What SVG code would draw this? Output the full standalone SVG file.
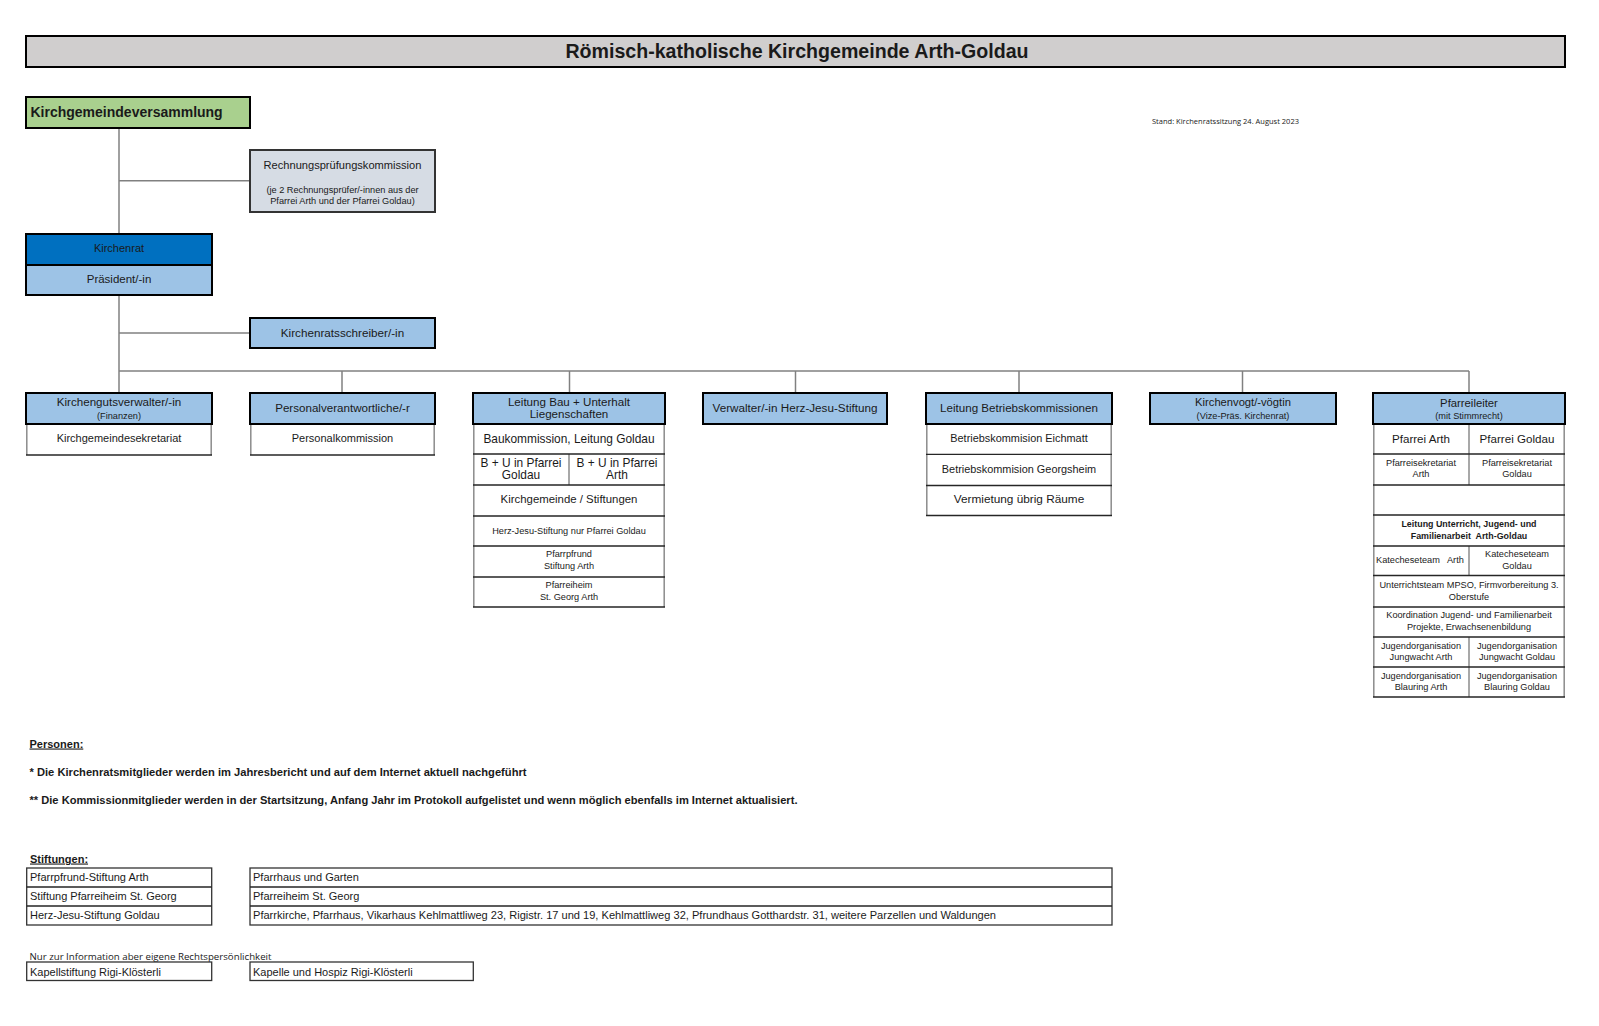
<svg xmlns="http://www.w3.org/2000/svg" width="1599" height="1026" viewBox="0 0 1599 1026">
<style>
.t{font-family:"Liberation Sans",Arial,sans-serif;fill:#1a1a1a;text-anchor:middle}
.l{text-anchor:start}
.b{font-weight:bold}
.s{font-size:9.2px}
.hdr{fill:#9dc3e6;stroke:#000;stroke-width:2}
.side{stroke:#8c8c8c;stroke-width:1.5;fill:none}
.sep{stroke:#262626;stroke-width:1.3;fill:none}
.conn{stroke:#808080;stroke-width:1.5;fill:none}
.box{fill:#fff;stroke:#333;stroke-width:1.3}
.cal{font-family:"Open Sans","Liberation Sans",sans-serif;fill:#1a1a1a}
</style>
<rect width="1599" height="1026" fill="#fff"/>

<g id="title">
<rect x="26" y="36" width="1539" height="31" fill="#d0cece" stroke="#000" stroke-width="2"/>
<text class="t b" x="797" y="58" font-size="19.6">Römisch-katholische Kirchgemeinde Arth-Goldau</text>
</g>

<text class="cal" x="1152" y="124" font-size="7.6" textLength="147" lengthAdjust="spacingAndGlyphs">Stand: Kirchenratssitzung 24. August 2023</text>

<g id="connectors">
<line class="conn" x1="119" y1="128" x2="119" y2="233"/>
<line class="conn" x1="119" y1="180.7" x2="250" y2="180.7"/>
<line class="conn" x1="119" y1="295" x2="119" y2="393"/>
<line class="conn" x1="119" y1="333" x2="250" y2="333"/>
<line class="conn" x1="119" y1="371" x2="1469" y2="371"/>
<line class="conn" x1="342" y1="371" x2="342" y2="393"/>
<line class="conn" x1="569.5" y1="371" x2="569.5" y2="393"/>
<line class="conn" x1="795.5" y1="371" x2="795.5" y2="393"/>
<line class="conn" x1="1019" y1="371" x2="1019" y2="393"/>
<line class="conn" x1="1242.5" y1="371" x2="1242.5" y2="393" stroke="#333"/>
<line class="conn" x1="1469" y1="371" x2="1469" y2="393" stroke="#333"/>
</g>

<g id="kirchgemeindeversammlung">
<rect x="26" y="97" width="224" height="31" fill="#a9d08e" stroke="#000" stroke-width="2"/>
<text class="t l b" x="30.5" y="117.3" font-size="14">Kirchgemeindeversammlung</text>
</g>

<g id="rechnungspruefungskommission">
<rect x="250" y="150" width="185" height="62" fill="#d6dce4" stroke="#333" stroke-width="2"/>
<text class="t" x="342.5" y="169" font-size="11.1">Rechnungsprüfungskommission</text>
<text class="t s" x="342.5" y="193.3">(je 2 Rechnungsprüfer/-innen aus der</text>
<text class="t s" x="342.5" y="204.3">Pfarrei Arth und der Pfarrei Goldau)</text>
</g>

<g id="kirchenrat">
<rect x="26" y="234" width="186" height="31" fill="#0070c0" stroke="#000" stroke-width="2"/>
<rect x="26" y="265" width="186" height="30" fill="#9dc3e6" stroke="#000" stroke-width="2"/>
<text class="t" x="119" y="252.3" font-size="11">Kirchenrat</text>
<text class="t" x="119" y="282.7" font-size="11.5">Präsident/-in</text>
</g>

<g id="kirchenratsschreiber">
<rect class="hdr" x="250" y="318" width="185" height="30"/>
<text class="t" x="342.5" y="336.5" font-size="11.7">Kirchenratsschreiber/-in</text>
</g>

<g id="kirchengutsverwalter">
<path class="side" d="M26.8 424 V455 M211.2 424 V455"/>
<line class="sep" x1="26" y1="455" x2="212" y2="455"/>
<rect class="hdr" x="26" y="393" width="186" height="31"/>
<text class="t" x="119" y="406" font-size="11.6">Kirchengutsverwalter/-in</text>
<text class="t s" x="119" y="418.5">(Finanzen)</text>
<text class="t" x="119" y="441.7" font-size="11">Kirchgemeindesekretariat</text>
</g>

<g id="personalverantwortliche">
<path class="side" d="M250.8 424 V455 M434.2 424 V455"/>
<line class="sep" x1="250" y1="455" x2="435" y2="455"/>
<rect class="hdr" x="250" y="393" width="185" height="31"/>
<text class="t" x="342.5" y="411.7" font-size="11.6">Personalverantwortliche/-r</text>
<text class="t" x="342.5" y="441.7" font-size="11">Personalkommission</text>
</g>

<g id="leitung-bau">
<path class="side" d="M473.8 424 V607 M664.2 424 V607 M569 454 V485"/>
<path class="sep" d="M473 454 H665 M473 485 H665 M473 516 H665 M473 546 H665 M473 577 H665 M473 607 H665"/>
<rect class="hdr" x="473" y="393" width="192" height="31"/>
<text class="t" x="569" y="406" font-size="11.6">Leitung Bau + Unterhalt</text>
<text class="t" x="569" y="418.3" font-size="11.6">Liegenschaften</text>
<text class="t" x="569" y="443" font-size="11.9">Baukommission, Leitung Goldau</text>
<text class="t" x="521" y="467" font-size="11.9">B + U in Pfarrei</text>
<text class="t" x="521" y="479" font-size="11.9">Goldau</text>
<text class="t" x="617" y="467" font-size="11.9">B + U in Pfarrei</text>
<text class="t" x="617" y="479" font-size="11.9">Arth</text>
<text class="t" x="569" y="503" font-size="11.4">Kirchgemeinde / Stiftungen</text>
<text class="t s" x="569" y="533.5">Herz-Jesu-Stiftung nur Pfarrei Goldau</text>
<text class="t s" x="569" y="557">Pfarrpfrund</text>
<text class="t s" x="569" y="569">Stiftung Arth</text>
<text class="t s" x="569" y="587.5">Pfarreiheim</text>
<text class="t s" x="569" y="599.5">St. Georg Arth</text>
</g>

<g id="verwalter-herz-jesu">
<rect class="hdr" x="703" y="393" width="184" height="31"/>
<text class="t" x="795" y="411.7" font-size="11.7">Verwalter/-in Herz-Jesu-Stiftung</text>
</g>

<g id="leitung-betriebskommissionen">
<path class="side" d="M926.8 424 V515.5 M1111.2 424 V515.5"/>
<path class="sep" d="M926 454.3 H1112 M926 485.5 H1112 M926 515.5 H1112"/>
<rect class="hdr" x="926" y="393" width="186" height="31"/>
<text class="t" x="1019" y="412.3" font-size="11.6">Leitung Betriebskommissionen</text>
<text class="t" x="1019" y="442.3" font-size="10.9">Betriebskommision Eichmatt</text>
<text class="t" x="1019" y="472.7" font-size="10.9">Betriebskommision Georgsheim</text>
<text class="t" x="1019" y="502.7" font-size="11.8">Vermietung übrig Räume</text>
</g>

<g id="kirchenvogt">
<rect class="hdr" x="1150" y="393" width="186" height="31"/>
<text class="t" x="1243" y="405.7" font-size="11.2">Kirchenvogt/-vögtin</text>
<text class="t s" x="1243" y="418.5">(Vize-Präs. Kirchenrat)</text>
</g>

<g id="pfarreileiter">
<path class="side" d="M1373.8 424 V697 M1564.2 424 V697 M1469 424 V485 M1469 546 V575 M1469 637 V697"/>
<path class="sep" d="M1373 454 H1565 M1373 485 H1565 M1373 515 H1565 M1373 546 H1565 M1373 575.5 H1565 M1373 607 H1565 M1373 637 H1565 M1373 667 H1565 M1373 697 H1565"/>
<rect class="hdr" x="1373" y="393" width="192" height="31"/>
<text class="t" x="1469" y="406.7" font-size="11.3">Pfarreileiter</text>
<text class="t s" x="1469" y="418.5">(mit Stimmrecht)</text>
<text class="t" x="1421" y="442.7" font-size="11.6">Pfarrei Arth</text>
<text class="t" x="1517" y="442.7" font-size="11.6">Pfarrei Goldau</text>
<text class="t s" x="1421" y="465.5">Pfarreisekretariat</text>
<text class="t s" x="1421" y="477">Arth</text>
<text class="t s" x="1517" y="465.5">Pfarreisekretariat</text>
<text class="t s" x="1517" y="477">Goldau</text>
<text class="t b" x="1469" y="527" font-size="8.9">Leitung Unterricht, Jugend- und</text>
<text class="t b" x="1469" y="539" font-size="8.9" xml:space="preserve">Familienarbeit  Arth-Goldau</text>
<text class="t l s" x="1376" y="563" xml:space="preserve">Katecheseteam   Arth</text>
<text class="t s" x="1517" y="557">Katecheseteam</text>
<text class="t s" x="1517" y="568.7">Goldau</text>
<text class="t s" x="1469" y="588">Unterrichtsteam MPSO, Firmvorbereitung 3.</text>
<text class="t s" x="1469" y="599.5">Oberstufe</text>
<text class="t s" x="1469" y="618">Koordination Jugend- und Familienarbeit</text>
<text class="t s" x="1469" y="629.7">Projekte, Erwachsenenbildung</text>
<text class="t s" x="1421" y="648.5">Jugendorganisation</text>
<text class="t s" x="1421" y="659.7">Jungwacht Arth</text>
<text class="t s" x="1517" y="648.5">Jugendorganisation</text>
<text class="t s" x="1517" y="659.7">Jungwacht Goldau</text>
<text class="t s" x="1421" y="679">Jugendorganisation</text>
<text class="t s" x="1421" y="690.3">Blauring Arth</text>
<text class="t s" x="1517" y="679">Jugendorganisation</text>
<text class="t s" x="1517" y="690.3">Blauring Goldau</text>
</g>

<g id="personen">
<text class="t l b" x="29.5" y="747.5" font-size="11" text-decoration="underline">Personen:</text>
<text class="t l b" x="29.5" y="775.5" font-size="10.6" textLength="497" lengthAdjust="spacingAndGlyphs">* Die Kirchenratsmitglieder werden im Jahresbericht und auf dem Internet aktuell nachgeführt</text>
<text class="t l b" x="29.5" y="804" font-size="10.6" textLength="768" lengthAdjust="spacingAndGlyphs">** Die Kommissionmitglieder werden in der Startsitzung, Anfang Jahr im Protokoll aufgelistet und wenn möglich ebenfalls im Internet aktualisiert.</text>
</g>

<g id="stiftungen">
<text class="t l b" x="30" y="862.5" font-size="11" text-decoration="underline">Stiftungen:</text>
<rect class="box" x="26.7" y="868" width="185" height="57"/>
<path class="sep" d="M26.7 887 H211.7 M26.7 906 H211.7"/>
<rect class="box" x="250" y="868" width="862" height="57"/>
<path class="sep" d="M250 887 H1112 M250 906 H1112"/>
<text class="t l" x="30" y="881" font-size="11">Pfarrpfrund-Stiftung Arth</text>
<text class="t l" x="30" y="900" font-size="11">Stiftung Pfarreiheim St. Georg</text>
<text class="t l" x="30" y="919" font-size="11">Herz-Jesu-Stiftung Goldau</text>
<text class="t l" x="253" y="881" font-size="11">Pfarrhaus und Garten</text>
<text class="t l" x="253" y="900" font-size="11">Pfarreiheim St. Georg</text>
<text class="t l" x="253" y="919" font-size="11" textLength="743" lengthAdjust="spacingAndGlyphs">Pfarrkirche, Pfarrhaus, Vikarhaus Kehlmattliweg 23, Rigistr. 17 und 19, Kehlmattliweg 32, Pfrundhaus Gotthardstr. 31, weitere Parzellen und Waldungen</text>
<text class="cal" x="29.5" y="959.5" font-size="9.6" textLength="242" lengthAdjust="spacingAndGlyphs">Nur zur Information aber eigene Rechtspersönlichkeit</text>
<rect class="box" x="26.7" y="962" width="185" height="18.5"/>
<rect class="box" x="250" y="962" width="223.3" height="18.5"/>
<text class="t l" x="30" y="975.5" font-size="11">Kapellstiftung Rigi-Klösterli</text>
<text class="t l" x="253" y="975.5" font-size="11">Kapelle und Hospiz Rigi-Klösterli</text>
</g>
</svg>
